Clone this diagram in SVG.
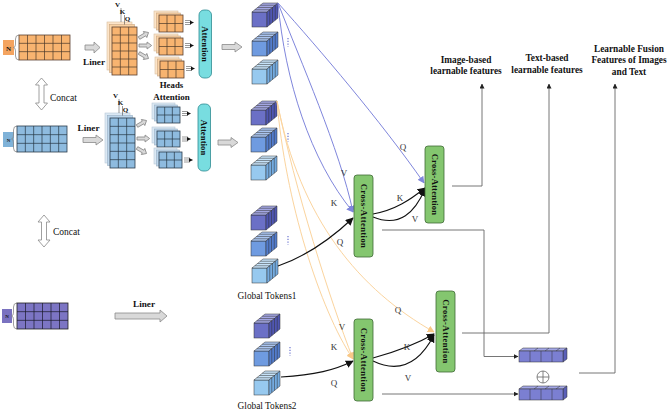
<svg xmlns="http://www.w3.org/2000/svg" xmlns:xlink="http://www.w3.org/1999/xlink" width="668" height="411" viewBox="0 0 668 411">
<style>
.t{font-family:"Liberation Serif","Times New Roman",serif;fill:#111}
.b{font-weight:bold}
.lb{font-family:"Liberation Serif","Times New Roman",serif;font-size:9px;fill:#333}
.og{fill:#f8b470;stroke:#5a4030;stroke-width:0.8}
.ob1{fill:#fbd2a4;stroke:#c9a680;stroke-width:0.6}
.ob2{fill:#fde4c8;stroke:#d8bea0;stroke-width:0.6}
.bg{fill:#8ebbdf;stroke:#2c3c4c;stroke-width:0.8}
.bb1{fill:#bcd6ec;stroke:#9ab0c4;stroke-width:0.6}
.bb2{fill:#dbe8f4;stroke:#b8c8d6;stroke-width:0.6}
.pg{fill:#7c75c4;stroke:#222;stroke-width:0.8}
.gl{fill:none;stroke:#4a3a2a;stroke-width:0.7}
.glb{fill:none;stroke:#263644;stroke-width:0.7}
.glp{fill:none;stroke:#1a1a2a;stroke-width:0.7}
.br{fill:none;stroke:#888;stroke-width:0.8}
.ha{fill:#d9d9d9;stroke:#8a8a8a;stroke-width:0.8}
.ca{fill:#84c66f;stroke:#3f6a36;stroke-width:0.8}
.at{fill:#78dde0;stroke:#2f8b92;stroke-width:0.8}
.cb{fill:none;stroke:#7f86dc;stroke-width:1}
.co{fill:none;stroke:#fbd49e;stroke-width:1}
.ck{fill:none;stroke:#111;stroke-width:1.1}
.cg{fill:none;stroke:#666;stroke-width:0.9}
.dt{fill:none;stroke:#6d76d0;stroke-width:1.2;stroke-dasharray:1.2 1.6}
.tk{stroke:#333;stroke-width:0.5}
.sa{fill:none;stroke:#333;stroke-width:0.5}
</style>
<defs>
<marker id="mb" viewBox="0 0 10 10" refX="9" refY="5" markerWidth="7" markerHeight="7" markerUnits="userSpaceOnUse" orient="auto"><path d="M0 0L10 5L0 10Z" fill="#7f86dc"/></marker>
<marker id="mo" viewBox="0 0 10 10" refX="9" refY="5" markerWidth="7" markerHeight="7" markerUnits="userSpaceOnUse" orient="auto"><path d="M0 0L10 5L0 10Z" fill="#f8c888"/></marker>
<marker id="mk" viewBox="0 0 10 10" refX="9" refY="5" markerWidth="8" markerHeight="8" markerUnits="userSpaceOnUse" orient="auto"><path d="M0 0L10 5L0 10Z" fill="#111"/></marker>
<marker id="mg" viewBox="0 0 10 10" refX="9" refY="5" markerWidth="5" markerHeight="5" markerUnits="userSpaceOnUse" orient="auto"><path d="M0 0L10 5L0 10Z" fill="#222"/></marker>
<marker id="ms" viewBox="0 0 10 10" refX="9" refY="5" markerWidth="4" markerHeight="4" markerUnits="userSpaceOnUse" orient="auto"><path d="M0 0L10 5L0 10Z" fill="#111"/></marker>
<path id="sarr" d="M0 -1.5H7V-3.5L11 0L7 3.5V1.5H0Z" class="ha"/>
<g id="cA">
<rect x="0" y="0" width="15" height="15" fill="#6b70c6" class="tk"/>
<path d="M0 0H15L26 -9H11Z" fill="#a3a6e2" class="tk"/>
<path d="M15 0L26 -9V6L15 15Z" fill="#4f56b2" class="tk"/>
<path d="M2.75 -2.25H17.75M5.5 -4.5H20.5M8.25 -6.75H23.25M17.75 -2.25V12.75M20.5 -4.5V10.5M23.25 -6.75V8.25" class="sa"/>
</g>
<g id="cB">
<rect x="0" y="0" width="15" height="15" fill="#6f9be0" class="tk"/>
<path d="M0 0H15L26 -9H11Z" fill="#a9c4ef" class="tk"/>
<path d="M15 0L26 -9V6L15 15Z" fill="#527ccc" class="tk"/>
<path d="M2.75 -2.25H17.75M5.5 -4.5H20.5M8.25 -6.75H23.25M17.75 -2.25V12.75M20.5 -4.5V10.5M23.25 -6.75V8.25" class="sa"/>
</g>
<g id="cC">
<rect x="0" y="0" width="15" height="15" fill="#97c9ef" class="tk"/>
<path d="M0 0H15L26 -9H11Z" fill="#c6e2f8" class="tk"/>
<path d="M15 0L26 -9V6L15 15Z" fill="#74abe0" class="tk"/>
<path d="M2.75 -2.25H17.75M5.5 -4.5H20.5M8.25 -6.75H23.25M17.75 -2.25V12.75M20.5 -4.5V10.5M23.25 -6.75V8.25" class="sa"/>
</g>
<g id="bar">
<path d="M0 0L4 -3H48L44 0Z" fill="#a3a7e6" class="tk"/>
<path d="M44 0L48 -3V8L44 11Z" fill="#5a5fb8" class="tk"/>
<rect x="0" y="0" width="44" height="11" fill="#7b7fd2" class="tk"/>
<path d="M11 0V11M22 0V11M33 0V11M15 0L19 -3M26 0L30 -3M37 0L41 -3" class="sa"/>
</g>
</defs>

<!-- Row 1: image tokens (orange) -->
<g id="img-input">
<rect x="3" y="40" width="11" height="15" fill="#f4a460"/>
<text x="8.5" y="50.5" class="t b" font-size="7" text-anchor="middle">N</text>
<path d="M19 35Q15.5 35 15.5 39V44Q15.5 47.5 13.5 47.5Q15.5 47.5 15.5 51V56Q15.5 60 19 60" class="br"/>
<rect x="19" y="35" width="51" height="25" class="og"/>
<path d="M27.5 35V60M36 35V60M44.5 35V60M53 35V60M61.5 35V60M19 43.33H70M19 51.67H70" class="gl"/>
</g>
<g id="img-liner">
<path d="M85 45H94V42L100 47.5L94 53V50H85Z" class="ha"/>
<text x="94" y="65" class="t b" font-size="9.2" text-anchor="middle">Liner</text>
</g>
<g id="img-qkv">
<rect x="107" y="22" width="25" height="48" class="ob2"/>
<rect x="109.5" y="24.5" width="25" height="48" class="ob1"/>
<rect x="112" y="27" width="25" height="48" class="og"/>
<path d="M121 8V22M124.5 15V24.5" class="sa"/>
<path d="M120.33 27V75M128.67 27V75M112 35H137M112 43H137M112 51H137M112 59H137M112 67H137" class="gl"/>
<text x="117.5" y="7" class="t b" font-size="7" text-anchor="middle">V</text>
<text x="122.5" y="14" class="t b" font-size="7" text-anchor="middle">K</text>
<text x="127.5" y="21" class="t b" font-size="7" text-anchor="middle">Q</text>
<use href="#sarr" transform="translate(139,38) rotate(-30)"/>
<use href="#sarr" transform="translate(139,45.5) scale(1.15,1)"/>
<use href="#sarr" transform="translate(139,53) rotate(30)"/>
</g>
<g id="img-heads">
<rect x="154" y="11" width="24" height="17" class="ob2"/><rect x="156.5" y="13" width="24" height="17" class="ob1"/>
<rect x="159" y="15" width="24" height="17" class="og"/>
<path d="M167 15V32M175 15V32M159 23.5H183" class="gl"/>
<rect x="154" y="34" width="24" height="17" class="ob2"/><rect x="156.5" y="36" width="24" height="17" class="ob1"/>
<rect x="159" y="38" width="24" height="17" class="og"/>
<path d="M167 38V55M175 38V55M159 46.5H183" class="gl"/>
<rect x="155" y="57" width="24" height="17" class="ob2"/><rect x="157.5" y="59" width="24" height="17" class="ob1"/>
<rect x="160" y="61" width="24" height="17" class="og"/>
<path d="M168 61V78M176 61V78M160 69.5H184" class="gl"/>
<path d="M185 20.5H191M185 24.5H191M185 43.5H191M185 47.5H191M186 66.5H192M186 70.5H192" class="sa"/>
<path d="M185 22.5H193.5" class="sa" marker-end="url(#ms)"/>
<path d="M185 45.5H193.5" class="sa" marker-end="url(#ms)"/>
<path d="M186 68.5H194.5" class="sa" marker-end="url(#ms)"/>
<text x="171.5" y="88" class="t b" font-size="8.8" text-anchor="middle">Heads</text>
<text x="171.5" y="100" class="t b" font-size="9" text-anchor="middle">Attention</text>
</g>
<g id="img-attention">
<rect x="199" y="10" width="12.5" height="68" rx="5" class="at"/>
<text transform="translate(205.25,44) rotate(90)" y="3" class="t b" font-size="8.8" text-anchor="middle">Attention</text>
<path d="M222 44.5H235V42L242 47L235 52V49.5H222Z" class="ha"/>
</g>

<!-- Concat arrows -->
<g id="concat1">
<path d="M41.5 78L47.5 85H44V103H47.5L41.5 110L35.5 103H39V85H35.5Z" fill="#fff" stroke="#888" stroke-width="0.8"/>
<text x="50" y="101" class="t" font-size="9.5">Concat</text>
</g>
<g id="concat2">
<path d="M44 215L50 222H46.5V240H50L44 247L38 240H41.5V222H38Z" fill="#fff" stroke="#888" stroke-width="0.8"/>
<text x="53" y="235" class="t" font-size="9.5">Concat</text>
</g>

<!-- Row 2: text tokens (blue) -->
<g id="txt-input">
<rect x="3" y="132" width="11" height="15" fill="#7fb2d8"/>
<text x="8.5" y="141.5" class="t b" font-size="5" text-anchor="middle">N</text>
<path d="M17 126Q13.5 126 13.5 130V135Q13.5 139 11.5 139Q13.5 139 13.5 143V148Q13.5 152 17 152" class="br"/>
<rect x="17" y="126" width="50" height="26" class="bg"/>
<path d="M25.33 126V152M33.67 126V152M42 126V152M50.33 126V152M58.67 126V152M17 134.67H67M17 143.33H67" class="glb"/>
</g>
<g id="txt-liner">
<path d="M83 137.5H96V135L103 140L96 145V142.5H83Z" class="ha"/>
<text x="88.5" y="131" class="t b" font-size="9.2" text-anchor="middle">Liner</text>
</g>
<g id="txt-qkv">
<rect x="105" y="113" width="25" height="50" class="bb2"/>
<rect x="107.5" y="115.5" width="25" height="50" class="bb1"/>
<rect x="110" y="118" width="25" height="50" class="bg"/>
<path d="M119 99V113M122.5 106V115.5" class="sa"/>
<path d="M118.33 118V168M126.67 118V168M110 126.33H135M110 134.67H135M110 143H135M110 151.33H135M110 159.67H135" class="glb"/>
<text x="115.5" y="98" class="t b" font-size="7" text-anchor="middle">V</text>
<text x="120.5" y="105" class="t b" font-size="7" text-anchor="middle">K</text>
<text x="125.5" y="112" class="t b" font-size="7" text-anchor="middle">Q</text>
<use href="#sarr" transform="translate(137,126) rotate(-30)"/>
<use href="#sarr" transform="translate(137,138.5) scale(1.15,1)"/>
<use href="#sarr" transform="translate(137,148) rotate(30)"/>
</g>
<g id="txt-heads">
<rect x="152" y="103" width="23" height="16" class="bb2"/><rect x="154.5" y="105" width="23" height="16" class="bb1"/>
<rect x="157" y="107" width="23" height="16" class="bg"/>
<path d="M164.67 107V123M172.33 107V123M157 115H180" class="glb"/>
<rect x="152" y="127" width="23" height="16" class="bb2"/><rect x="154.5" y="129" width="23" height="16" class="bb1"/>
<rect x="157" y="131" width="23" height="16" class="bg"/>
<path d="M164.67 131V147M172.33 131V147M157 139H180" class="glb"/>
<rect x="154" y="148" width="23" height="16" class="bb2"/><rect x="156.5" y="150" width="23" height="16" class="bb1"/>
<rect x="159" y="152" width="23" height="16" class="bg"/>
<path d="M166.67 152V168M174.33 152V168M159 160H182" class="glb"/>
<path d="M182 111.5H188M182 115.5H188M182 137H188M182 141H188M184 158H190M184 162H190" class="sa"/>
<path d="M182 113.5H190.5" class="sa" marker-end="url(#ms)"/>
<path d="M182 139H190.5" class="sa" marker-end="url(#ms)"/>
<path d="M184 160H192.5" class="sa" marker-end="url(#ms)"/>
</g>
<g id="txt-attention">
<rect x="198" y="104" width="12.5" height="67" rx="5" class="at"/>
<text transform="translate(204.25,137.5) rotate(90)" y="3" class="t b" font-size="8.8" text-anchor="middle">Attention</text>
<path d="M218 140H231V137.5L238 142.5L231 147.5V145H218Z" class="ha"/>
</g>

<!-- Row 3: fusion input (purple) -->
<g id="fus-input">
<rect x="2" y="309" width="10" height="14" fill="#7a72c0"/>
<text x="7" y="318" class="t b" font-size="5" text-anchor="middle">N</text>
<path d="M17 303Q13.5 303 13.5 307V312Q13.5 316 11.5 316Q13.5 316 13.5 320V325Q13.5 329 17 329" class="br"/>
<rect x="17" y="303" width="51" height="26" class="pg"/>
<path d="M25.5 303V329M34 303V329M42.5 303V329M51 303V329M59.5 303V329M17 311.67H68M17 320.33H68" class="glp"/>
</g>
<g id="fus-liner">
<path d="M115 313H160V310L167 316L160 322V319H115Z" class="ha"/>
<text x="144" y="307" class="t b" font-size="9.2" text-anchor="middle">Liner</text>
</g>

<!-- Token columns -->
<g id="tokens-img">
<use href="#cA" x="252" y="12"/><use href="#cB" x="252" y="41"/><use href="#cC" x="252" y="69"/>
<path d="M288 38V47" class="dt"/>
</g>
<g id="tokens-txt">
<use href="#cA" x="251" y="110"/><use href="#cB" x="251" y="137"/><use href="#cC" x="251" y="165"/>
<path d="M288 133V142" class="dt"/>
</g>
<g id="global-tokens1">
<use href="#cA" x="251" y="215"/><use href="#cB" x="251" y="241"/><use href="#cC" x="252" y="268"/>
<path d="M288 236V245" class="dt"/>
<text x="267" y="299" class="t" font-size="9.3" text-anchor="middle">Global Tokens1</text>
</g>
<g id="global-tokens2">
<use href="#cA" x="254" y="323"/><use href="#cB" x="254" y="351"/><use href="#cC" x="254" y="380"/>
<path d="M290 347V356" class="dt"/>
<text x="267" y="409" class="t" font-size="9.3" text-anchor="middle">Global Tokens2</text>
</g>

<!-- Connectors -->
<g id="connectors">
<path d="M278 3C285 80 310 160 353 212" class="cb" marker-end="url(#mb)"/>
<path d="M278 3C300 60 340 150 353 212" class="cb" marker-end="url(#mb)"/>
<path d="M278 3C320 50 380 120 424 183" class="cb" marker-end="url(#mb)"/>
<path d="M277 101C285 200 320 310 353 359" class="co" marker-end="url(#mo)"/>
<path d="M277 101C295 190 330 300 353 359" class="co" marker-end="url(#mo)"/>
<path d="M277 101C300 220 360 290 434 332" class="co" marker-end="url(#mo)"/>
<path d="M278 266C310 255 335 235 353 218" class="ck" marker-end="url(#mk)"/>
<path d="M373 214C395 210 410 200 425 188" class="ck" marker-end="url(#mk)"/>
<path d="M373 217C400 228 415 212 425 189" class="ck" marker-end="url(#mk)"/>
<path d="M281 377C315 375 335 370 353 361" class="ck" marker-end="url(#mk)"/>
<path d="M373 358C395 352 415 345 434 334" class="ck" marker-end="url(#mk)"/>
<path d="M373 361C400 374 420 362 434 335" class="ck" marker-end="url(#mk)"/>
<path d="M452 186H482V84" class="cg" marker-end="url(#mg)"/>
<path d="M462 333H549V84" class="cg" marker-end="url(#mg)"/>
<path d="M579 373H615V84" class="cg" marker-end="url(#mg)"/>
<path d="M382 230H484V356.5H518" class="cg" marker-end="url(#mg)"/>
<path d="M382 394H518" class="cg" marker-end="url(#mg)"/>
<text x="344" y="176" class="lb" text-anchor="middle">V</text>
<text x="334" y="206" class="lb" text-anchor="middle">K</text>
<text x="403" y="150" class="lb" text-anchor="middle">Q</text>
<text x="340" y="245" class="lb" text-anchor="middle">Q</text>
<text x="400" y="201" class="lb" text-anchor="middle">K</text>
<text x="415" y="222" class="lb" text-anchor="middle">V</text>
<text x="342" y="330" class="lb" text-anchor="middle">V</text>
<text x="334" y="350" class="lb" text-anchor="middle">K</text>
<text x="334" y="386" class="lb" text-anchor="middle">Q</text>
<text x="398" y="313" class="lb" text-anchor="middle">Q</text>
<text x="407" y="350" class="lb" text-anchor="middle">K</text>
<text x="408" y="381" class="lb" text-anchor="middle">V</text>
</g>

<!-- Cross-attention nodes -->
<g id="ca1">
<rect x="354" y="175" width="19" height="82" rx="3" class="ca"/>
<text transform="translate(363.5,216) rotate(90)" y="3" class="t b" font-size="8.6" letter-spacing="0.4" text-anchor="middle">Cross-Attention</text>
</g>
<g id="ca2">
<rect x="425" y="146" width="19" height="77" rx="3" class="ca"/>
<text transform="translate(434.5,184.5) rotate(90)" y="3" class="t b" font-size="8.6" letter-spacing="0.2" text-anchor="middle">Cross-Attention</text>
</g>
<g id="ca3">
<rect x="436" y="291" width="19" height="81" rx="3" class="ca"/>
<text transform="translate(445.5,331.5) rotate(90)" y="3" class="t b" font-size="8.6" letter-spacing="0.4" text-anchor="middle">Cross-Attention</text>
</g>
<g id="ca4">
<rect x="354" y="319" width="19" height="82" rx="3" class="ca"/>
<text transform="translate(363.5,360) rotate(90)" y="3" class="t b" font-size="8.6" letter-spacing="0.4" text-anchor="middle">Cross-Attention</text>
</g>

<!-- Output bars -->
<g id="bar1"><use href="#bar" x="519" y="351"/></g>
<g id="plus">
<circle cx="543" cy="377" r="6" fill="none" stroke="#666" stroke-width="0.8"/>
<path d="M537 377H549M543 371V383" stroke="#666" stroke-width="0.8"/>
</g>
<g id="bar2"><use href="#bar" x="519" y="389"/></g>

<!-- Output labels -->
<g id="out-img">
<text x="466" y="62.5" class="t b" font-size="9.3" text-anchor="middle">Image-based</text>
<text x="466" y="74" class="t b" font-size="9.3" text-anchor="middle">learnable features</text>
</g>
<g id="out-txt">
<text x="547" y="61" class="t b" font-size="9.3" text-anchor="middle">Text-based</text>
<text x="547" y="72.5" class="t b" font-size="9.3" text-anchor="middle">learnable features</text>
</g>
<g id="out-fusion">
<text x="629" y="51.5" class="t b" font-size="9.3" text-anchor="middle">Learnable Fusion</text>
<text x="629" y="63" class="t b" font-size="9.3" text-anchor="middle">Features of Images</text>
<text x="629" y="74.5" class="t b" font-size="9.3" text-anchor="middle">and Text</text>
</g>
</svg>
